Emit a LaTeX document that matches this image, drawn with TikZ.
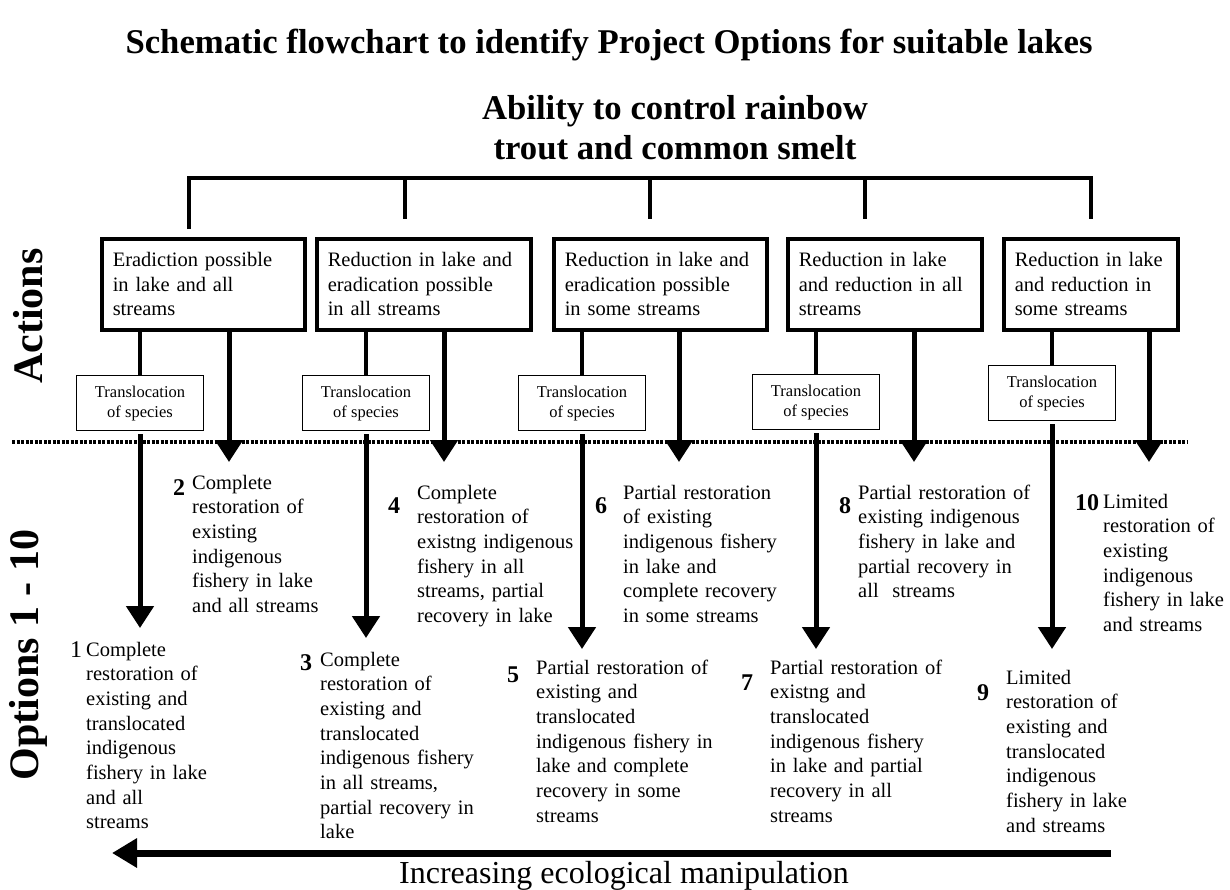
\documentclass[tikz,border=0pt]{standalone}
\usepackage{fontspec}
\setmainfont{Liberation Serif}
\usetikzlibrary{arrows.meta}

\tikzset{
  actionbox/.style={draw, line width=3.5pt, anchor=north west, minimum height=91pt,
    inner xsep=11pt, inner ysep=0pt, align=left, font=\fontsize{20.5}{24.7}\selectfont},
  transbox/.style={draw, line width=1.3pt, anchor=north, minimum width=127pt, minimum height=55pt,
    inner sep=0pt, align=center, font=\fontsize{16.5}{20}\selectfont},
  optext/.style={anchor=base west, inner sep=0pt, align=left, text width=190pt,
    font=\fontsize{20.5}{24.7}\selectfont},
  opnum/.style={inner sep=0pt, font=\fontsize{24}{24}\selectfont\bfseries},
  sidelabel/.style={rotate=90, inner sep=0pt, font=\fontsize{42}{42}\selectfont\bfseries},
  link/.style={line width=4pt},
  downarrow/.style={line width=5pt, -{Triangle[length=22pt,width=27pt]}},
}

\begin{document}
\begin{tikzpicture}[x=1pt, y=-1pt]
    \useasboundingbox (0,0) rectangle (1230,889);

    % Titles
    \node[font=\fontsize{34.7}{40}\selectfont\bfseries] (title) at (609,45)
        {Schematic flowchart to identify Project Options for suitable lakes};
    \node[font=\fontsize{34.7}{40}\selectfont\bfseries, align=center] (ability) at (675,128)
        {Ability to control rainbow\\trout and common smelt};

    % Bracket
    \draw[link] (189,229) -- (189,178) -- (1091,178) -- (1091,219);
    \foreach \x in {405,650,865}
        \draw[link] (\x,178) -- (\x,219);

    % Side labels
    \node[sidelabel] (actions) at (28,316) {Actions};
    \node[sidelabel] (options) at (28,655) {Options 1 - 10};

    % Actions, translocation and arrows
    \foreach \n/\bx/\bw/\lx/\ty/\tip/\ax/\txt in {
        1/100/207/140/375/628/229/{Eradiction possible\\in lake and all\\streams},
        2/315/218/366/375/638/444/{Reduction in lake and\\eradication possible\\in all streams},
        3/552/217/582/375/649/679/{Reduction in lake and\\eradication possible\\in some streams},
        4/786/198/816/374/649/914/{Reduction in lake\\and reduction in all\\streams},
        5/1002/178/1052/365/649/1149/{Reduction in lake\\and reduction in\\some streams}} {
        \pgfmathsetmacro{\tw}{\bw-26}
        \node[actionbox, text width=\tw pt] (b\n) at (\bx,237) {\txt};
        \node[transbox] (t\n) at (\lx,\ty) {Translocation\\of species};
        \draw[link] (b\n.south -| t\n.north) -- (t\n.north);
        \coordinate (o\n) at (\lx,\tip);
        \draw[downarrow] ([yshift=-3pt]t\n.south) -- (o\n);
        \coordinate (a\n) at (\ax,462);
        \draw[downarrow] (b\n.south -| a\n) -- (a\n);
    }

    % Divider
    \draw[line width=3.5pt, dash pattern=on 3pt off 1.5pt] (12,442) -- (1188,442);

    % Options
    \node[opnum, font=\fontsize{24}{24}\selectfont] (n1) at (76,650) {1};
    \node[optext] (p1) at (86,656) {Complete\\restoration of\\existing and\\translocated\\indigenous\\fishery in lake\\and all\\streams};
    \node[opnum] (n2) at (179,488) {2};
    \node[optext] (p2) at (192,489) {Complete\\restoration of\\existing\\indigenous\\fishery in lake\\and all streams};
    \node[opnum] (n3) at (306,663) {3};
    \node[optext] (p3) at (320,666) {Complete\\restoration of\\existing and\\translocated\\indigenous fishery\\in all streams,\\partial recovery in\\lake};
    \node[opnum] (n4) at (394,506) {4};
    \node[optext] (p4) at (417,499) {Complete\\restoration of\\existng indigenous\\fishery in all\\streams, partial\\recovery in lake};
    \node[opnum] (n5) at (513,675) {5};
    \node[optext] (p5) at (536,674) {Partial restoration of\\existing and\\translocated\\indigenous fishery in\\lake and complete\\recovery in some\\streams};
    \node[opnum] (n6) at (601,506) {6};
    \node[optext] (p6) at (623,499) {Partial restoration\\of existing\\indigenous fishery\\in lake and\\complete recovery\\in some streams};
    \node[opnum] (n7) at (747,683) {7};
    \node[optext] (p7) at (770,674) {Partial restoration of\\existng and\\translocated\\indigenous fishery\\in lake and partial\\recovery in all\\streams};
    \node[opnum] (n8) at (845,506) {8};
    \node[optext] (p8) at (858,499) {Partial restoration of\\existing indigenous\\fishery in lake and\\partial recovery in\\all~~streams};
    \node[opnum] (n9) at (983,693) {9};
    \node[optext] (p9) at (1006,684) {Limited\\restoration of\\existing and\\translocated\\indigenous\\fishery in lake\\and streams};
    \node[opnum] (n10) at (1087,503) {10};
    \node[optext] (p10) at (1103,508) {Limited\\restoration of\\existing\\indigenous\\fishery in lake\\and streams};

    % Manipulation axis
    \coordinate (mstart) at (1111,853);
    \coordinate (mend) at (112,853);
    \draw[line width=7pt, -{Triangle[length=25pt,width=28pt]}] (mstart) -- (mend);
    \node[font=\fontsize{32}{32}\selectfont] (manip) at (624,876) {Increasing ecological manipulation};
\end{tikzpicture}
\end{document}
